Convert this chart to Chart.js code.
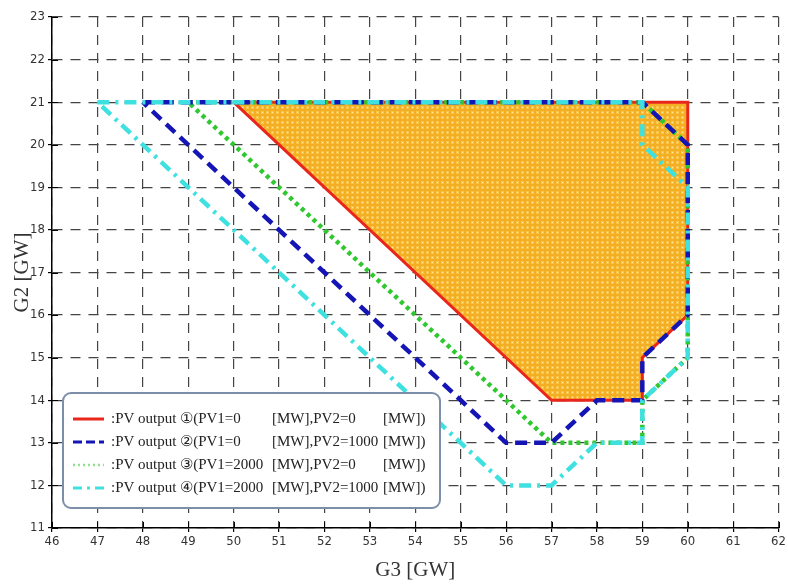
<!DOCTYPE html>
<html><head><meta charset="utf-8">
<script src="https://cdn.jsdelivr.net/npm/chart.js@4"></script>
<style>html,body{margin:0;padding:0;background:#fff}#wrap{width:788px;height:585px}</style>
</head><body><div id="wrap"><canvas id="c" width="788" height="585"></canvas></div>
<script>
// ---- data ----
const seriesNames = ['PV output ①', 'PV output ②', 'PV output ③', 'PV output ④'];
const pv1 = [0, 0, 2000, 2000];
const pv2 = [0, 1000, 0, 1000];
const s1X = [50, 60, 60, 59, 59, 57, 50];
const s1Y = [21, 21, 16, 15, 14, 14, 21];
const s2X = [48, 59, 60, 60, 59, 59, 58, 57, 56, 48];
const s2Y = [21, 21, 20, 16, 15, 14, 14, 13, 13, 21];
const s3X = [49, 59, 60, 60, 59, 59, 57, 49];
const s3Y = [21, 21, 20, 15, 14, 13, 13, 21];
const s4X = [47, 59, 59, 60, 60, 59, 59, 58, 57, 56, 47];
const s4Y = [21, 21, 20, 19, 15, 14, 13, 13, 12, 12, 21];
const xMin = 46, xMax = 62, yMin = 11, yMax = 23;
const xTitle = 'G3 [GW]', yTitle = 'G2 [GW]';

const pts = (xs, ys) => xs.map((x, i) => ({x: x, y: ys[i]}));

// fill pattern (orange with light dots)
function makePattern() {
  const p = document.createElement('canvas');
  p.width = 5; p.height = 5;
  const g = p.getContext('2d');
  g.fillStyle = '#f4ae24';
  g.fillRect(0, 0, 5, 5);
  g.fillStyle = '#f9c548';
  g.fillRect(1, 1, 3, 3);
  g.fillStyle = '#fde7a2';
  g.fillRect(2, 2, 1, 1);
  return document.getElementById('c').getContext('2d').createPattern(p, 'repeat');
}

const colors = ['#e8261c', '#1515b5', '#2fc82f', '#3ee0e0'];
const dashes = [[], [12, 7], [4, 4], [12, 6, 3, 6]];
const widths = [3, 4.5, 4.5, 4.5];

const inTicks = {
  id: 'inTicks',
  afterDatasetsDraw(chart) {
    const ctx = chart.ctx, a = chart.chartArea;
    const xs = chart.scales.x, ys = chart.scales.y;
    ctx.save();
    ctx.strokeStyle = '#000'; ctx.lineWidth = 1;
    ctx.beginPath();
    for (let v = xMin; v <= xMax; v++) {
      const px = Math.round(xs.getPixelForValue(v)) + 0.5;
      ctx.moveTo(px, a.bottom); ctx.lineTo(px, a.bottom - 6);
    }
    for (let v = yMin; v <= yMax; v++) {
      const py = Math.round(ys.getPixelForValue(v)) + 0.5;
      ctx.moveTo(a.left, py); ctx.lineTo(a.left + 6, py);
    }
    ctx.stroke();
    ctx.restore();
  }
};

const legendBox = {
  id: 'legendBox',
  afterDraw(chart) {
    const ctx = chart.ctx;
    const bx = 63, by = 393, bw = 377, bh = 115, r = 8;
    ctx.save();
    ctx.fillStyle = '#ffffff';
    ctx.strokeStyle = '#7d8ea8';
    ctx.lineWidth = 2;
    ctx.beginPath();
    ctx.roundRect(bx, by, bw, bh, r);
    ctx.fill(); ctx.stroke();
    const rowY = [419, 442, 465, 488];
    ctx.font = '15px "Liberation Serif", "Times New Roman", serif';
    ctx.textBaseline = 'middle';
    ctx.fillStyle = '#222';
    chart.data.datasets.forEach((ds, i) => {
      const y = rowY[i];
      ctx.save();
      ctx.strokeStyle = i === 2 ? '#8fe08f' : ds.borderColor;
      ctx.lineWidth = i === 2 ? 2.5 : 3;
      ctx.setLineDash(i === 2 ? [2, 3] : (i === 3 ? [9, 5, 3, 5] : (i === 1 ? [9, 4] : [])));
      ctx.beginPath(); ctx.moveTo(73, y); ctx.lineTo(104, y); ctx.stroke();
      ctx.restore();
      ctx.textAlign = 'left';
      ctx.fillText(':' + seriesNames[i] + '(PV1=' + pv1[i], 111, y);
      ctx.fillText('[MW],PV2=' + pv2[i], 272, y);
      ctx.fillText('[MW])', 383, y);
    });
    ctx.restore();
  }
};

const gridCommon = {
  color: '#444', lineWidth: 1.2, drawTicks: true, tickLength: 4, tickColor: '#000'
};
const tickFont = {family: '"Liberation Sans Narrow", "DejaVu Sans Condensed", "Liberation Sans", sans-serif', size: 13};
const titleFont = {family: '"Liberation Serif", "Times New Roman", serif', size: 21};

new Chart(document.getElementById('c'), {
  type: 'scatter',
  data: {
    datasets: [
      {label: seriesNames[0], data: pts(s1X, s1Y)},
      {label: seriesNames[1], data: pts(s2X, s2Y)},
      {label: seriesNames[2], data: pts(s3X, s3Y)},
      {label: seriesNames[3], data: pts(s4X, s4Y)}
    ].map((d, i) => Object.assign(d, {
      showLine: true,
      borderColor: colors[i],
      borderWidth: widths[i],
      borderDash: dashes[i],
      borderCapStyle: 'butt',
      borderJoinStyle: 'miter',
      pointRadius: 0,
      pointHoverRadius: 0,
      tension: 0,
      fill: i === 0 ? 'shape' : false,
      backgroundColor: i === 0 ? makePattern() : 'transparent',
      order: [4, 2, 3, 1][i]
    }))
  },
  options: {
    responsive: false,
    animation: false,
    devicePixelRatio: 1,
    layout: {padding: {top: 17, right: 9, left: 0, bottom: 0}},
    plugins: {legend: {display: false}, tooltip: {enabled: false}},
    scales: {
      x: {
        type: 'linear', min: xMin, max: xMax,
        ticks: {stepSize: 1, font: tickFont, color: '#333', padding: 2, maxRotation: 0},
        grid: gridCommon,
        border: {display: true, color: '#000', width: 1.5, dash: [10, 8]},
        title: {display: true, text: xTitle, font: titleFont, color: '#333', padding: {top: 0, bottom: 2}},
        afterFit: s => { s.height = 57; }
      },
      y: {
        type: 'linear', min: yMin, max: yMax,
        ticks: {stepSize: 1, font: tickFont, color: '#333', padding: 3},
        grid: gridCommon,
        border: {display: true, color: '#000', width: 1.5, dash: [10, 8]},
        title: {display: true, text: yTitle, font: titleFont, color: '#333', padding: {top: 10, bottom: 0}},
        afterFit: s => { s.width = 52; }
      }
    }
  },
  plugins: [inTicks, legendBox]
});
</script>
</body></html>
